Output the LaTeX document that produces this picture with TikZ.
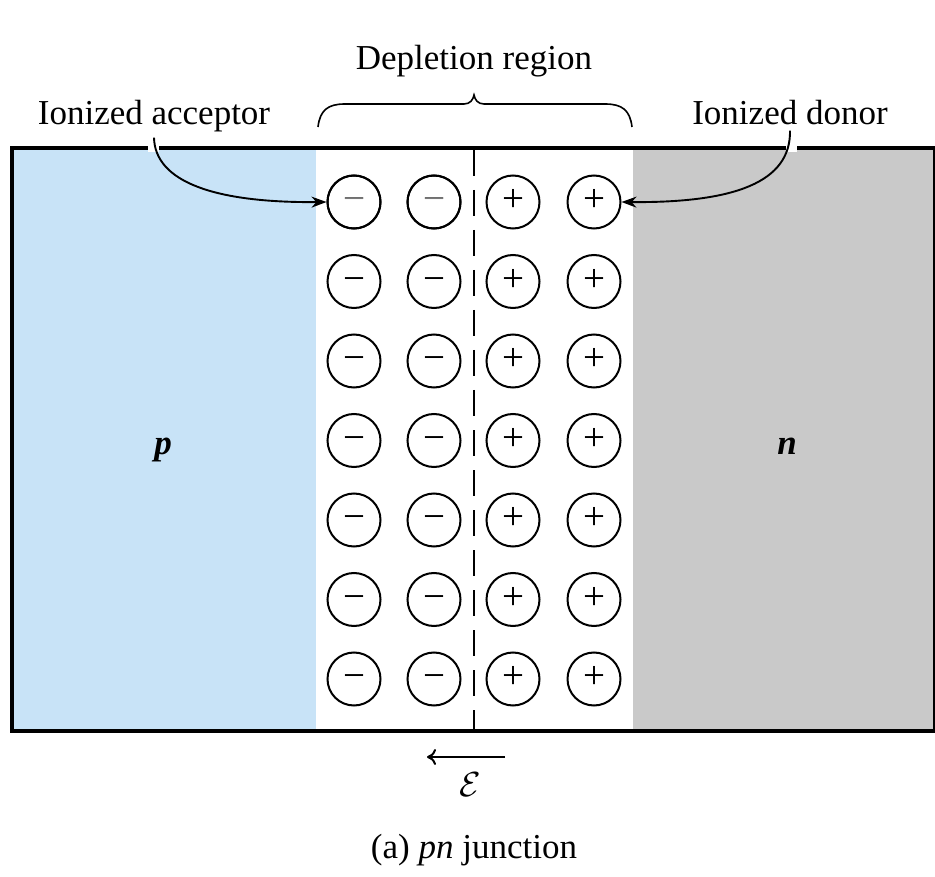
\documentclass[tikz,border=0pt]{standalone}
\usepackage{graphicx}
\usepackage{fontspec}
\setmainfont{Liberation Serif}
\usetikzlibrary{arrows.meta}
\definecolor{pside}{RGB}{200,227,247}
\definecolor{nside}{RGB}{201,201,201}
\definecolor{faintsign}{RGB}{120,120,120}

\begin{document}
\begin{tikzpicture}[x=1pt,y=-1pt,
  lbl/.style={font=\fontsize{35}{40}\selectfont, inner sep=0pt},
  region/.style={font=\fontsize{35}{40}\selectfont\bfseries\itshape, inner sep=0pt},
  ion/.style={circle, draw, line width=2pt, minimum size=53pt, inner sep=0pt,
    font=\fontsize{39}{39}\selectfont, text height=19.7pt, text depth=0pt},
  conn/.style={line width=1.9pt, -{Stealth[length=15pt,width=11pt]}},
  frame/.style={line width=4pt},
  junction/.style={line width=2pt, dash pattern=on 26pt off 14pt}]
\useasboundingbox (0,0) rectangle (935,877);

% p side, depletion region, n side
\fill[pside] (12,148) rectangle (316,731);
\fill[nside] (633,148) rectangle (935,731);
\draw[frame] (12,148) rectangle (935,731);

% metallurgical junction
\draw[junction] (474,150) -- (474,729);

% fixed ionized impurities
\foreach \r/\yy in {1/202,2/281.5,3/361,4/440.5,5/520,6/599.5,7/679}{
  \node[ion] (a\r1) at (354,\yy) {−};
  \node[ion] (a\r2) at (434,\yy) {−};
  \node[ion] (a\r3) at (513,\yy) {+};
  \node[ion] (a\r4) at (594,\yy) {+};
}
% lighter minus signs in the first row
\node[ion, text=faintsign] at (a11) {−};
\node[ion, text=faintsign] at (a12) {−};

% brace over the depletion region
\draw[line width=1.6pt] (318,127) .. controls (320,110) and (328,104) .. (345,104)
  -- (464,104) .. controls (470,104) and (473,100) .. (474,95)
  .. controls (475,100) and (478,104) .. (484,104) -- (605,104)
  .. controls (622,104) and (630,110) .. (632,127);

% labels
\node[lbl, anchor=base] (dep) at (474,70) {Depletion region};
\node[lbl, anchor=base] (acc) at (154,125) {Ionized acceptor};
\node[lbl, anchor=base] (don) at (790,125) {Ionized donor};
\node[region, anchor=base] (p) at (163,454) {p};
\node[region, anchor=base] (n) at (787,454) {n};

% pointers from the labels to the ions
\fill[white] (148,144) rectangle (159,152);
\fill[white] (786,144) rectangle (797,152);
\draw[conn] ([yshift=-5pt]acc.south) .. controls (155,182) and (215,203) .. (a11.west);
\draw[conn] ([yshift=-5pt]don.south) .. controls (791,182) and (735,203) .. (a14.east);

% built-in electric field
\coordinate (fstart) at (505,757);
\coordinate (fend) at (427,757);
\draw[line width=2pt, -{To[length=9pt,width=16pt]}] (fstart) -- (fend);
\node[font=\fontsize{24.88}{30}\selectfont, inner sep=0pt] (efield) at (470,785)
  {\scalebox{1.4}{$\mathcal{E}$}};

% caption
\node[lbl, anchor=base] (cap) at (474,858) {(a) \textit{pn} junction};
\end{tikzpicture}
\end{document}
